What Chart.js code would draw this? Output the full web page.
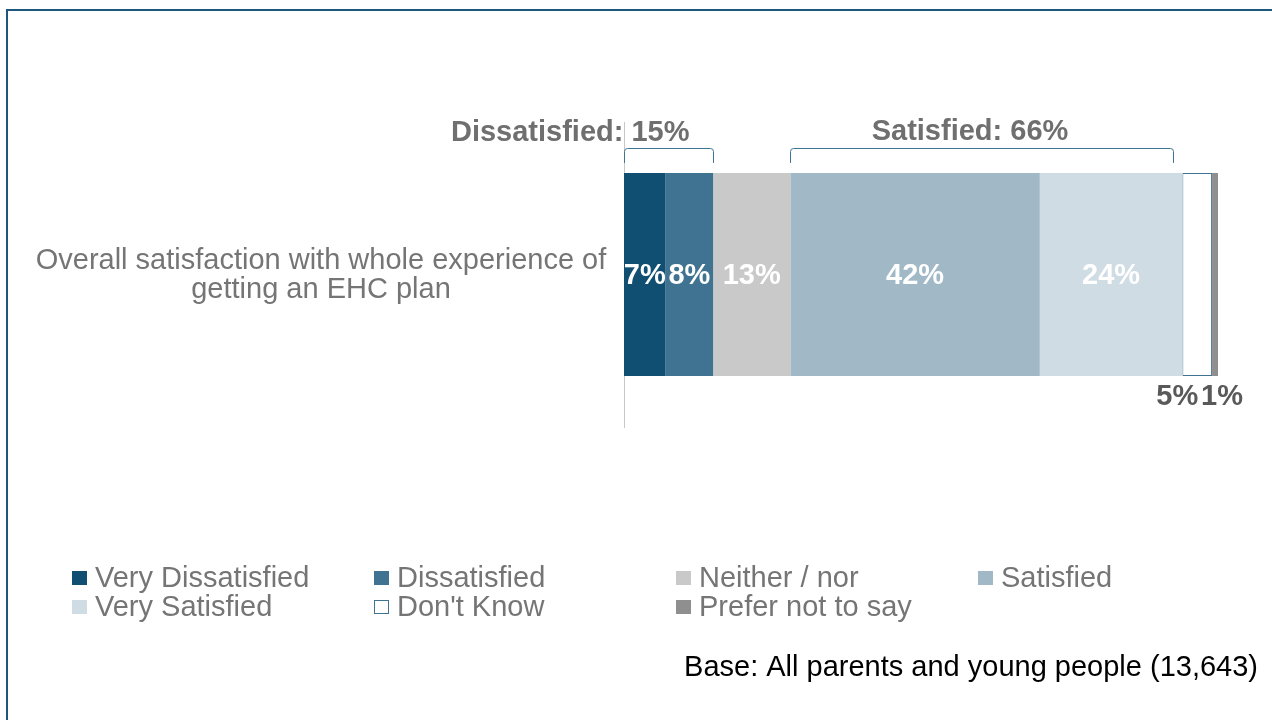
<!DOCTYPE html>
<html>
<head>
<meta charset="utf-8">
<title>Overall satisfaction</title>
<script src="https://cdn.jsdelivr.net/npm/chart.js@4/dist/chart.umd.min.js"></script>
<style>
  html, body { margin: 0; padding: 0; background: #ffffff; }
  #wrap { width: 1272px; height: 720px; }
</style>
</head>
<body>
<div id="wrap"><canvas id="chart" width="1272" height="720"></canvas></div>
<script>
// ---------------------------------------------------------------------------
// Dados
// ---------------------------------------------------------------------------
const categories = [['Overall satisfaction with whole experience of', 'getting an EHC plan']];
const seriesLabels = ['Very Dissatisfied', 'Dissatisfied', 'Neither / nor', 'Satisfied', 'Very Satisfied', "Don't Know", 'Prefer not to say'];
const seriesValues = [7, 8, 13, 42, 24, 5, 1];
const bracketLabels = ['Dissatisfied: 15%', 'Satisfied: 66%'];
const bracketRanges = [[0, 15], [28, 92.5]];
const baseNote = 'Base: All parents and young people (13,643)';

// Cores
const SERIES_COLORS = ['#104e72', '#3f7391', '#c9c9c9', '#a1b8c7', '#d0dce4', '#ffffff', '#8f8f8f'];
const FONT = '"Liberation Sans", Arial, sans-serif';
const GREY_TEXT = '#757575';
const BRACKET_COLOR = '#3e7597';

// rótulos que ficam abaixo da barra (segmentos pequenos) e seus deslocamentos
const OUTSIDE_OFFSET = { 5: -20, 6: 7 };

// ---------------------------------------------------------------------------
// Plugins
// ---------------------------------------------------------------------------
const frame = {
    id: 'frame',
    beforeDraw(chart) {
        const ctx = chart.ctx;
        ctx.save();
        ctx.fillStyle = '#1b587c';
        ctx.fillRect(6, 9, chart.width - 6, 2);
        ctx.fillRect(6, 9, 2, chart.height - 9);
        ctx.restore();
    }
};

const categoryLabel = {
    id: 'categoryLabel',
    afterDraw(chart) {
        const ctx = chart.ctx;
        const y = chart.scales.y.getPixelForValue(0);
        ctx.save();
        ctx.font = '29px ' + FONT;
        ctx.fillStyle = GREY_TEXT;
        ctx.textAlign = 'center';
        ctx.textBaseline = 'alphabetic';
        const lines = categories[0];
        lines.forEach((line, i) => ctx.fillText(line, 321, y - 6 + i * 29));
        ctx.restore();
    }
};

const valueLabels = {
    id: 'valueLabels',
    afterDatasetsDraw(chart) {
        const ctx = chart.ctx;
        ctx.save();
        ctx.font = 'bold 29px ' + FONT;
        ctx.textAlign = 'center';
        ctx.textBaseline = 'middle';
        chart.data.datasets.forEach((ds, i) => {
            const bar = chart.getDatasetMeta(i).data[0];
            const cx = (bar.x + bar.base) / 2;
            const text = ds.data[0] + '%';
            if (i in OUTSIDE_OFFSET) {
                ctx.fillStyle = '#595959';
                ctx.fillText(text, cx + OUTSIDE_OFFSET[i], bar.y + bar.height / 2 + 21);
            } else {
                ctx.fillStyle = '#ffffff';
                ctx.fillText(text, cx, bar.y + 1);
            }
        });
        ctx.restore();
    }
};

const brackets = {
    id: 'brackets',
    afterDraw(chart) {
        const ctx = chart.ctx;
        const xs = chart.scales.x;
        const bar = chart.getDatasetMeta(0).data[0];
        const top = bar.y - bar.height / 2;
        ctx.save();
        bracketRanges.forEach((r, i) => {
            const x0 = Math.round(xs.getPixelForValue(r[0])) + 0.5;
            const x1 = Math.round(xs.getPixelForValue(r[1])) + 0.5;
            const yTop = Math.round(top - 25) + 0.5;
            const yBot = top - 10;
            ctx.strokeStyle = BRACKET_COLOR;
            ctx.lineWidth = 1;
            ctx.beginPath();
            ctx.moveTo(x0, yBot);
            ctx.lineTo(x0, yTop + 3);
            ctx.quadraticCurveTo(x0, yTop, x0 + 3, yTop);
            ctx.lineTo(x1 - 3, yTop);
            ctx.quadraticCurveTo(x1, yTop, x1, yTop + 3);
            ctx.lineTo(x1, yBot);
            ctx.stroke();

            ctx.font = 'bold 29px ' + FONT;
            ctx.fillStyle = '#6f6f6f';
            ctx.textBaseline = 'alphabetic';
            if (i === 0) {
                ctx.textAlign = 'right';
                ctx.fillText(bracketLabels[i], x1 - 24, top - 32);
            } else {
                ctx.textAlign = 'center';
                ctx.fillText(bracketLabels[i], (x0 + x1) / 2 - 12, top - 33);
            }
        });
        ctx.restore();
    }
};

const legendGrid = {
    id: 'legendGrid',
    afterDraw(chart) {
        const ctx = chart.ctx;
        ctx.save();
        ctx.font = '29px ' + FONT;
        ctx.textAlign = 'left';
        ctx.textBaseline = 'middle';
        chart.data.datasets.forEach((ds, i) => {
            const col = i % 4;
            const row = Math.floor(i / 4);
            const x = 72 + col * 302;
            const y = 571 + row * 29;
            ctx.fillStyle = ds.backgroundColor;
            ctx.fillRect(x, y, 15, 14);
            if (ds.borderWidth) {
                ctx.strokeStyle = ds.borderColor;
                ctx.lineWidth = 1;
                ctx.strokeRect(x + 0.5, y + 0.5, 14, 13);
            }
            ctx.fillStyle = GREY_TEXT;
            ctx.fillText(ds.label, x + 23, y + 8);
        });

        ctx.fillStyle = '#000000';
        ctx.textAlign = 'right';
        ctx.textBaseline = 'alphabetic';
        ctx.fillText(baseNote, 1258, 676);
        ctx.restore();
    }
};

// ---------------------------------------------------------------------------
// Gráfico
// ---------------------------------------------------------------------------
const datasets = seriesLabels.map((label, i) => ({
    label: label,
    data: [seriesValues[i]],
    backgroundColor: SERIES_COLORS[i],
    borderColor: i === 5 ? '#3f7391' : SERIES_COLORS[i],
    borderWidth: i === 5 ? 1 : 0,
    borderSkipped: false,
    barPercentage: 0.666,
    categoryPercentage: 1
}));

new Chart(document.getElementById('chart'), {
    type: 'bar',
    data: { labels: categories, datasets: datasets },
    options: {
        indexAxis: 'y',
        responsive: false,
        animation: false,
        layout: { padding: { left: 0, top: 122, right: 54, bottom: 293 } },
        plugins: {
            legend: { display: false },
            tooltip: { enabled: false }
        },
        scales: {
            x: {
                stacked: true,
                min: 0,
                max: 100,
                display: false
            },
            y: {
                stacked: true,
                ticks: { display: false },
                grid: { display: false },
                border: { display: true, color: '#c8c8c8', width: 1 },
                afterFit(scale) { scale.width = 624; }
            }
        }
    },
    plugins: [frame, categoryLabel, valueLabels, brackets, legendGrid]
});
</script>
</body>
</html>
